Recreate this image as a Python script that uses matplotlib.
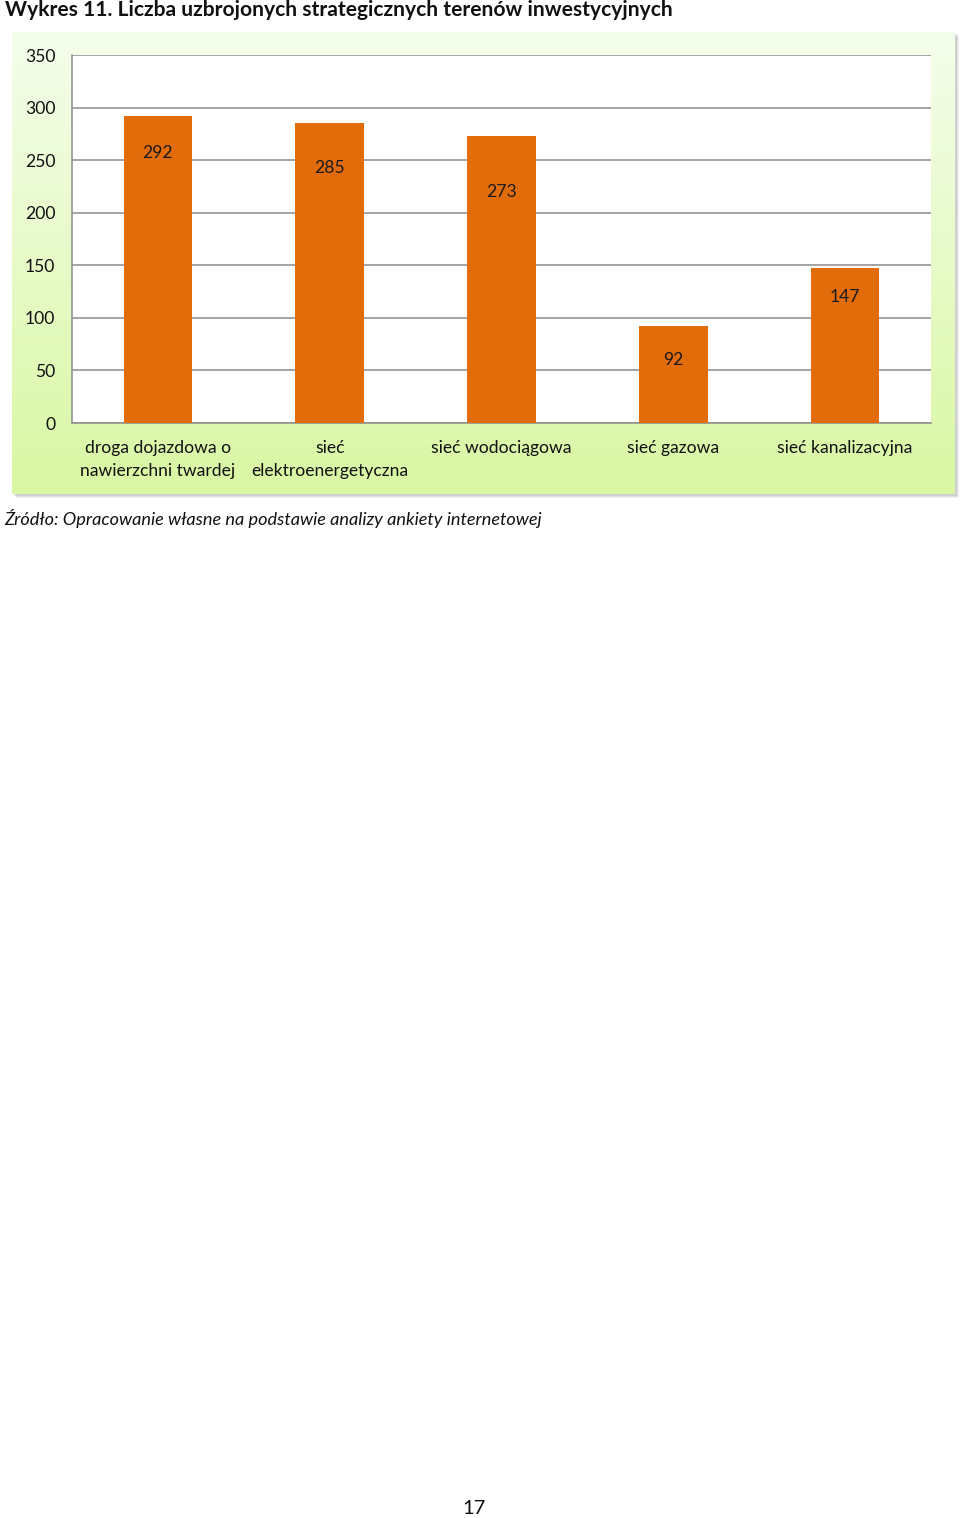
import numpy as np
import matplotlib
matplotlib.use("Agg")
import matplotlib.pyplot as plt

# data
categories = [
    "droga dojazdowa o\nnawierzchni twardej",
    "sieć\nelektroenergetyczna",
    "sieć wodociągowa",
    "sieć gazowa",
    "sieć kanalizacyjna",
]
values = [292, 285, 273, 92, 147]
y_ticks = [0, 50, 100, 150, 200, 250, 300, 350]

title = "Wykres 11. Liczba uzbrojonych strategicznych terenów inwestycyjnych"
source = "Źródło: Opracowanie własne na podstawie analizy ankiety internetowej"
page_no = "17"

# layout / style
W, H = 960, 1518
FONT = ["Lato", "DejaVu Sans"]
BAR_COLOR = "#E36C0A"
GRID_COLOR = "#8C8C8C"
label_frac = [0.88, 0.85, 0.805, 0.65, 0.815]  # where the value sits inside the bar

plt.rcParams["font.family"] = FONT


def px_rect(x0, y0, x1, y1):
    """Pixel box (top-left origin) -> figure fraction rect."""
    return [x0 / W, 1 - y1 / H, (x1 - x0) / W, (y1 - y0) / H]


fig = plt.figure(figsize=(W / 100, H / 100), dpi=100)
fig.patch.set_facecolor("white")

# soft shadow of the chart panel
for off, a in [(4, 0.10), (3, 0.12), (2, 0.15)]:
    sh = fig.add_axes(px_rect(12 + off, 32 + off, 955 + off, 494 + off))
    sh.set_facecolor((0.45, 0.45, 0.45, a))
    sh.set_xticks([])
    sh.set_yticks([])
    for s in sh.spines.values():
        s.set_visible(False)

# chart panel with vertical gradient
panel = fig.add_axes(px_rect(12, 32, 955, 494))
top = np.array([0.96, 0.995, 0.925])
bottom = np.array([0.85, 0.97, 0.64])
t = np.linspace(0, 1, 256)[:, None]
grad = top + (bottom - top) * t
panel.imshow(grad[:, None, :].repeat(2, axis=1), aspect="auto",
             extent=[0, 1, 0, 1], origin="upper")
panel.set_axis_off()

# plot area
ax = fig.add_axes(px_rect(72, 55, 931, 423))
ax.set_facecolor("white")
x = np.arange(len(categories))
bars = ax.bar(x, values, width=0.4, color=BAR_COLOR, zorder=3)
ax.set_xlim(-0.5, len(categories) - 0.5)
ax.set_ylim(0, 350)
ax.set_yticks(y_ticks)
ax.yaxis.grid(True, color=GRID_COLOR, linewidth=1.1, zorder=0)
ax.set_axisbelow(True)
ax.set_xticks(x)
ax.set_xticklabels(categories, fontsize=12.6, color="#111111", linespacing=1.55)
ax.tick_params(axis="x", length=0, pad=12)
ax.tick_params(axis="y", length=0, pad=12, labelsize=12.6, labelcolor="#111111")
for s in ["top", "right"]:
    ax.spines[s].set_visible(False)
for s in ["left", "bottom"]:
    ax.spines[s].set_color(GRID_COLOR)
    ax.spines[s].set_linewidth(1.1)

for xi, v, f in zip(x, values, label_frac):
    ax.text(xi, v * f, str(v), ha="center", va="center",
            fontsize=12.6, color="#1a1a1a", zorder=4)

fig.text(5 / W, 1 - 10 / H, title, fontsize=15.1, fontweight="bold",
         ha="left", va="center", color="#111111")
fig.text(4 / W, 1 - 518 / H, source, fontsize=13.1, style="italic",
         ha="left", va="center", color="#111111")
fig.text(474 / W, 1 - 1508 / H, page_no, fontsize=14.5,
         ha="center", va="center", color="#111111")

fig.savefig("out.png", dpi=100)
